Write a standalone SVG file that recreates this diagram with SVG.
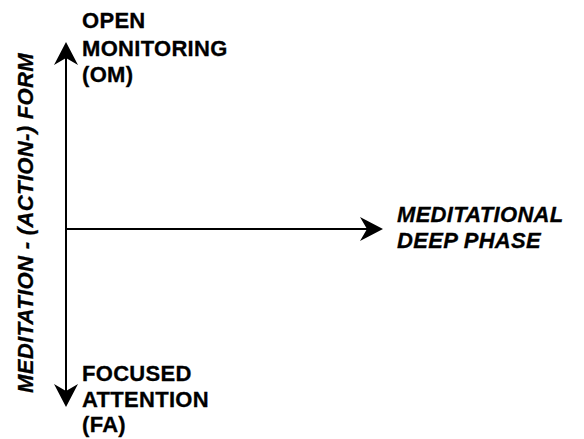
<svg xmlns="http://www.w3.org/2000/svg" width="584" height="439" viewBox="0 0 584 439">
  <style>
    .axis { stroke: #000; stroke-width: 2; fill: none; }
    .lbl { font-family: "Liberation Sans", Arial, sans-serif; font-weight: bold; font-size: 22px; fill: #000; letter-spacing: 0.3px; stroke: #000; stroke-width: 0.3px; }
    .it { font-style: italic; }
  </style>
  <defs>
    <marker id="arrow" markerUnits="userSpaceOnUse" markerWidth="30" markerHeight="30" refX="10" refY="0" orient="auto" overflow="visible">
      <path d="M 23 0 L 0 -12 L 7 0 L 0 12 Z" fill="#000"/>
    </marker>
  </defs>
  <rect width="584" height="439" fill="#fff"/>
  <g id="connectors">
    <line class="axis" x1="66" y1="229" x2="66" y2="55" marker-end="url(#arrow)"/>
    <line class="axis" x1="66" y1="229" x2="66" y2="394" marker-end="url(#arrow)"/>
    <line class="axis" x1="66" y1="229" x2="370" y2="229" marker-end="url(#arrow)"/>
  </g>
  <g id="open-monitoring">
    <text class="lbl" x="82" y="28">OPEN</text>
    <text class="lbl" x="82" y="56">MONITORING</text>
    <text class="lbl" x="82" y="82">(OM)</text>
  </g>
  <g id="focused-attention">
    <text class="lbl" x="82" y="381">FOCUSED</text>
    <text class="lbl" x="82" y="407">ATTENTION</text>
    <text class="lbl" x="82" y="432">(FA)</text>
  </g>
  <g id="meditational-deep-phase">
    <text class="lbl it" x="397" y="222">MEDITATIONAL</text>
    <text class="lbl it" x="397" y="248">DEEP PHASE</text>
  </g>
  <g id="axis-label">
    <text class="lbl it" transform="translate(33,223) rotate(-90)" x="0" y="0" text-anchor="middle" textLength="340" lengthAdjust="spacing">MEDITATION - (ACTION-) FORM</text>
  </g>
</svg>
